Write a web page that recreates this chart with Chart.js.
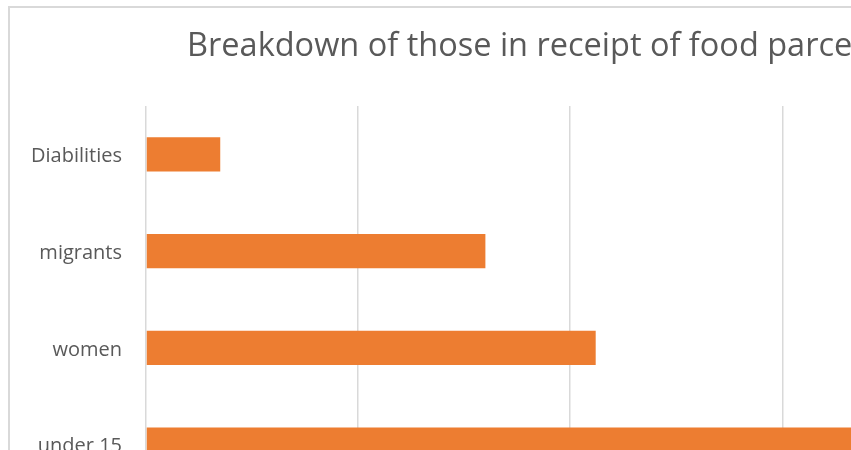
<!DOCTYPE html>
<html>
<head>
<meta charset="utf-8">
<script src="https://cdn.jsdelivr.net/npm/chart.js@4"></script>
<style>
  html, body { margin: 0; padding: 0; background: #fff; overflow: hidden; }
  body { width: 851px; height: 450px; position: relative; }
  .frame {
    position: absolute; left: 8px; top: 6px;
    width: 1076px; height: 560px;
    border: 2px solid #d9d9d9;
  }
  canvas { display: block; }
</style>
</head>
<body>
<div class="frame"><canvas id="parcels" width="1076" height="560"></canvas></div>
<script>
const categories = ["Diabilities", "migrants", "women", "under 15"];
const recipients = [35, 160, 212, 360];
const xTicks = [0, 100, 200, 300, 400];
const xMax = 429;

const textGrey = "#595959";

new Chart(document.getElementById("parcels"), {
  type: "bar",
  data: {
    labels: categories,
    datasets: [
      {
        label: "Recipients",
        data: recipients,
        backgroundColor: "#ED7D31",
        borderWidth: 0,
        categoryPercentage: 1,
        barPercentage: 0.353,
      },
    ],
  },
  options: {
    indexAxis: "y",
    responsive: false,
    animation: false,
    layout: { padding: { left: -3, right: 30, top: 0, bottom: 31 } },
    plugins: {
      legend: { display: false },
      tooltip: { enabled: false },
      title: {
        display: true,
        text: "Breakdown of those in receipt of food parcels",
        color: textGrey,
        font: { family: "Open Sans", size: 32.5, weight: "normal" },
        padding: { top: 19, bottom: 40 },
      },
    },
    scales: {
      x: {
        min: xTicks[0],
        max: xMax,
        afterBuildTicks: (axis) => { axis.ticks = xTicks.map(v => ({ value: v })); },
        grid: { color: "#d9d9d9", lineWidth: 1.5, drawTicks: false },
        border: { display: false },
        ticks: { color: textGrey, font: { family: "Open Sans", size: 20 }, padding: 10 },
      },
      y: {
        grid: { display: false, drawTicks: false },
        border: { display: false },
        ticks: { color: textGrey, font: { family: "Open Sans", size: 20 }, padding: 24, labelOffset: 2 },
      },
    },
  },
});
</script>
</body>
</html>
